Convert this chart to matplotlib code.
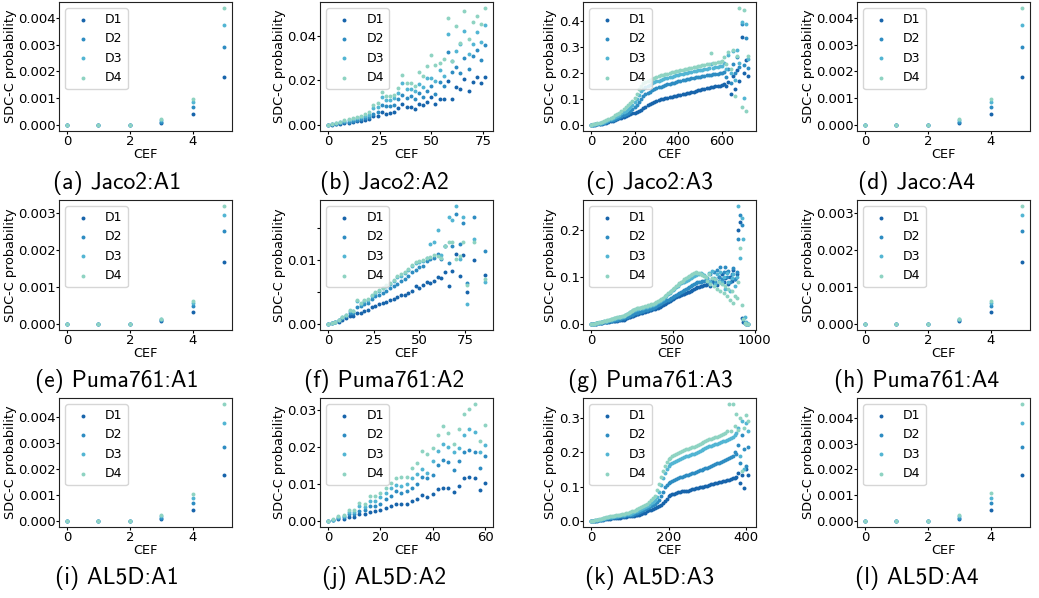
import numpy as np
import matplotlib
matplotlib.use('Agg')
import matplotlib.pyplot as plt

# %% DATA
series_names = ['D1', 'D2', 'D3', 'D4']
series_colors = ['#1764ab', '#2d8cc2', '#52b5d3', '#8ed3c2']

# A1 / A4 campaigns: CEF 0..5
cef_a1 = [0, 1, 2, 3, 4, 5]
jaco2_a1 = [[0, 0, 0, 0.00007, 0.00041, 0.00178],
            [0, 0, 0, 0.00012, 0.00067, 0.00293],
            [0, 0, 0, 0.00018, 0.00085, 0.00375],
            [0, 0, 0, 0.00023, 0.00099, 0.00437]]
jaco_a4 = [[0, 0, 0, 0.00007, 0.00041, 0.00178],
           [0, 0, 0, 0.00012, 0.00067, 0.00293],
           [0, 0, 0, 0.00018, 0.00085, 0.00375],
           [0, 0, 0, 0.00023, 0.00099, 0.00437]]
puma_a1 = [[0, 0, 0, 0.00007, 0.00033, 0.00167],
           [0, 0, 0, 0.00010, 0.00050, 0.00250],
           [0, 0, 0, 0.00013, 0.00056, 0.00294],
           [0, 0, 0, 0.00015, 0.00062, 0.00318]]
puma_a4 = [[0, 0, 0, 0.00007, 0.00033, 0.00166],
           [0, 0, 0, 0.00010, 0.00050, 0.00250],
           [0, 0, 0, 0.00013, 0.00056, 0.00293],
           [0, 0, 0, 0.00015, 0.00061, 0.00318]]
al5d_a1 = [[0, 0, 0, 0.00007, 0.00041, 0.00177],
           [0, 0, 0, 0.00013, 0.00068, 0.00287],
           [0, 0, 0, 0.00019, 0.00089, 0.00379],
           [0, 0, 0, 0.00023, 0.00106, 0.00452]]
al5d_a4 = [[0, 0, 0, 0.00008, 0.00042, 0.00178],
           [0, 0, 0, 0.00013, 0.00069, 0.00288],
           [0, 0, 0, 0.00019, 0.00091, 0.00381],
           [0, 0, 0, 0.00024, 0.00108, 0.00454]]

# A2 campaigns
cef_jaco2_a2 = list(range(0, 78, 2))
jaco2_a2 = [
    [0, .0002, .0005, .0007, .0009, .0011, .0014, .0017, .0019, .0023, .0027, .0040, .0042,
     .0060, .0052, .0053, .0057, .0075, .0093, .0080, .0080, .0072, .0095, .0088, .0103, .0127,
     .0093, .0115, .0118, .0198, .0118, .0172, .0160, .0208, .0152, .0195, .0215, .0190, .0214],
    [0, .0003, .0007, .0010, .0013, .0016, .0020, .0024, .0027, .0031, .0036, .0052, .0058,
     .0090, .0085, .0086, .0092, .0115, .0137, .0122, .0130, .0115, .0145, .0126, .0154, .0176,
     .0140, .0194, .0173, .0328, .0238, .0260, .0235, .0300, .0250, .0310, .0335, .0290, .0358],
    [0, .0004, .0009, .0013, .0017, .0021, .0026, .0031, .0035, .0040, .0046, .0075, .0082,
     .0127, .0112, .0112, .0121, .0145, .0190, .0162, .0163, .0154, .0183, .0172, .0212, .0213,
     .0197, .0245, .0222, .0410, .0285, .0330, .0365, .0420, .0320, .0365, .0415, .0370, .0450],
    [0, .0005, .0011, .0016, .0021, .0026, .0032, .0038, .0043, .0049, .0058, .0090, .0097,
     .0150, .0130, .0130, .0137, .0166, .0224, .0190, .0190, .0175, .0237, .0222, .0264, .0316,
     .0268, .0278, .0297, .0478, .0288, .0445, .0368, .0510, .0385, .0460, .0490, .0455, .0525]]

cef_puma_a2 = list(range(0, 78, 2)) + [80, 86]
puma_a2 = [
    [0, .0001, .0003, .0004, .0007, .0009, .0012, .0012, .0018, .0017, .0021, .0022, .0026,
     .0029, .0031, .0033, .0035, .0037, .0040, .0043, .0045, .0046, .0049, .0052, .0060, .0057,
     .0061, .0066, .0064, .0068, .0073, .0072, .0082, .0060, .0083, .0109, .0076, .0108, .0051,
     .0100, .0077],
    [0, .0001, .0004, .0006, .0010, .0013, .0018, .0018, .0027, .0028, .0031, .0033, .0039,
     .0044, .0046, .0049, .0052, .0056, .0060, .0063, .0068, .0070, .0075, .0082, .0085, .0090,
     .0091, .0098, .0102, .0104, .0109, .0102, .0122, .0096, .0123, .0173, .0125, .0158, .0064,
     .0167, .0115],
    [0, .0001, .0004, .0006, .0011, .0015, .0021, .0020, .0036, .0031, .0036, .0038, .0044,
     .0048, .0052, .0056, .0059, .0063, .0067, .0074, .0076, .0080, .0085, .0091, .0096, .0097,
     .0099, .0103, .0126, .0128, .0147, .0108, .0123, .0167, .0163, .0185, .0102, .0167, .0031,
     .0133, .0066],
    [0, .0001, .0004, .0006, .0011, .0015, .0022, .0021, .0037, .0033, .0038, .0039, .0046,
     .0050, .0054, .0057, .0061, .0065, .0069, .0075, .0078, .0082, .0087, .0093, .0097, .0098,
     .0100, .0104, .0105, .0108, .0107, .0103, .0122, .0128, .0128, .0102, .0107, .0128, .0061,
     .0128, .0070]]

cef_al5d_a2 = list(range(0, 62, 2))
al5d_a2 = [
    [0, .0002, .0006, .0007, .0012, .0012, .0019, .0019, .0024, .0027, .0029, .0035, .0042,
     .0045, .0045, .0046, .0053, .0060, .0070, .0066, .0072, .0086, .0090, .0089, .0079, .0094,
     .0115, .0120, .0116, .0085, .0104],
    [0, .0003, .0009, .0011, .0019, .0019, .0028, .0031, .0040, .0042, .0046, .0060, .0069,
     .0080, .0077, .0082, .0089, .0100, .0120, .0115, .0124, .0152, .0165, .0159, .0137, .0162,
     .0187, .0193, .0187, .0144, .0176],
    [0, .0004, .0012, .0014, .0024, .0024, .0040, .0039, .0053, .0055, .0064, .0075, .0088,
     .0098, .0096, .0100, .0115, .0128, .0140, .0130, .0162, .0190, .0207, .0201, .0186, .0198,
     .0233, .0248, .0240, .0186, .0204],
    [0, .0005, .0014, .0017, .0031, .0031, .0050, .0046, .0069, .0069, .0077, .0089, .0102,
     .0117, .0118, .0120, .0143, .0156, .0189, .0182, .0198, .0233, .0257, .0238, .0208, .0247,
     .0290, .0303, .0316, .0217, .0260]]

# A3 campaigns (read every 10 / 5 CEF)
cef_jaco2_a3 = list(range(0, 730, 10))
jaco2_a3 = [
    [0, .001, .002, .003, .004, .005, .007, .009, .011, .014,
     .017, .020, .023, .026, .029, .032, .035, .038, .041, .045,
     .048, .051, .055, .059, .064, .070, .076, .081, .086, .090,
     .093, .096, .099, .101, .103, .105, .107, .109, .111, .113,
     .115, .117, .119, .121, .123, .125, .127, .129, .131, .133,
     .135, .137, .139, .141, .143, .145, .147, .149, .151, .152,
     .153, .158, .150, .165, .120, .190, .140, .210, .170, .340,
     .200, .250, .190],
    [0, .001, .003, .004, .006, .008, .010, .012, .015, .018,
     .021, .024, .028, .031, .035, .039, .043, .048, .053, .061,
     .070, .078, .088, .100, .110, .118, .124, .129, .134, .138,
     .142, .145, .148, .151, .154, .156, .159, .161, .163, .166,
     .168, .170, .172, .174, .176, .178, .180, .182, .183, .185,
     .186, .188, .189, .191, .192, .193, .195, .196, .198, .199,
     .200, .205, .185, .215, .160, .235, .200, .260, .225, .390,
     .230, .335, .220],
    [0, .002, .004, .006, .008, .010, .013, .016, .019, .023,
     .027, .031, .035, .040, .045, .050, .056, .062, .069, .078,
     .088, .100, .115, .130, .140, .145, .150, .155, .160, .164,
     .168, .171, .174, .177, .179, .182, .184, .186, .188, .191,
     .193, .195, .197, .199, .201, .203, .205, .207, .208, .210,
     .212, .213, .215, .216, .218, .235, .220, .222, .224, .226,
     .228, .240, .215, .270, .200, .285, .175, .290, .240, .395,
     .105, .390, .255],
    [0, .003, .005, .007, .010, .012, .015, .019, .023, .027,
     .032, .037, .042, .048, .054, .061, .068, .076, .085, .094,
     .105, .120, .138, .152, .160, .165, .170, .174, .178, .182,
     .185, .188, .191, .194, .196, .198, .200, .202, .204, .206,
     .208, .210, .212, .214, .216, .218, .220, .222, .224, .226,
     .228, .230, .232, .234, .236, .275, .238, .240, .242, .244,
     .245, .260, .235, .280, .215, .290, .110, .265, .450, .070,
     .440, .055, .265]]

cef_puma_a3 = list(range(0, 970, 10))
puma_a3 = [
    [0, 0, .0005, .001, .0015, .002, .0025, .003, .0035, .004,
     .0045, .005, .0055, .006, .0065, .007, .0075, .008, .0085, .009,
     .0095, .011, .012, .014, .015, .017, .018, .020, .021, .022,
     .023, .024, .025, .026, .027, .028, .029, .030, .031, .032,
     .033, .035, .037, .039, .041, .043, .045, .047, .049, .051,
     .053, .055, .057, .059, .060, .062, .063, .064, .066, .067,
     .068, .070, .072, .074, .076, .078, .079, .080, .081, .082,
     .083, .085, .088, .080, .092, .086, .095, .082, .100, .090,
     .105, .088, .098, .110, .085, .100, .092, .115, .095, .105,
     .200, .215, .012, .005, .002, .001, .001],
    [0, 0, .0006, .0012, .0018, .0024, .003, .0036, .0042, .0048,
     .0054, .006, .0067, .0074, .0081, .0088, .0095, .010, .011, .012,
     .013, .014, .016, .017, .019, .020, .022, .023, .024, .025,
     .026, .027, .028, .029, .030, .031, .032, .033, .034, .036,
     .038, .040, .042, .044, .046, .048, .050, .052, .054, .056,
     .058, .060, .062, .064, .066, .068, .070, .072, .074, .076,
     .078, .080, .082, .084, .086, .088, .089, .090, .091, .092,
     .093, .098, .088, .105, .095, .110, .090, .115, .100, .120,
     .095, .110, .120, .100, .112, .090, .105, .118, .095, .110,
     .180, .230, .210, .010, .003, .001, .001],
    [0, 0, .0008, .0016, .0024, .0032, .004, .0048, .0056, .0064,
     .0072, .008, .009, .010, .011, .012, .013, .014, .015, .016,
     .017, .019, .021, .023, .025, .027, .029, .030, .031, .032,
     .033, .034, .035, .036, .037, .038, .039, .040, .041, .043,
     .045, .047, .049, .051, .054, .057, .060, .063, .066, .069,
     .072, .075, .078, .081, .084, .086, .088, .090, .092, .094,
     .096, .098, .100, .102, .104, .106, .107, .108, .106, .104,
     .100, .095, .108, .090, .112, .098, .085, .105, .092, .110,
     .088, .100, .075, .108, .090, .070, .098, .105, .080, .100,
     .250, .140, .225, .180, .014, .004, .001],
    [0, 0, .0009, .0018, .0027, .0036, .0045, .0054, .0063, .0072,
     .008, .009, .010, .011, .012, .013, .014, .015, .016, .017,
     .018, .020, .022, .024, .026, .028, .030, .032, .033, .034,
     .035, .036, .037, .038, .039, .040, .041, .042, .043, .045,
     .047, .049, .051, .053, .056, .059, .062, .065, .068, .071,
     .074, .077, .080, .083, .086, .089, .092, .095, .098, .100,
     .102, .104, .106, .108, .110, .109, .108, .106, .104, .102,
     .100, .092, .105, .085, .098, .080, .095, .075, .090, .070,
     .085, .065, .080, .060, .075, .050, .070, .045, .060, .055,
     .090, .160, .040, .010, .003, .001, 0]]

cef_al5d_a3 = list(range(0, 410, 5))
al5d_a3 = [
    [0, .0005, .001, .0015, .002, .003, .004, .005, .006, .007,
     .0075, .008, .0085, .009, .0095, .010, .011, .012, .013, .0135,
     .014, .015, .016, .017, .018, .019, .021, .023, .025, .028,
     .031, .033, .035, .037, .040, .043, .048, .053, .058, .065,
     .072, .075, .078, .080, .082, .084, .085, .086, .087, .088,
     .088, .090, .092, .094, .096, .097, .098, .099, .100, .101,
     .103, .105, .107, .109, .111, .112, .113, .114, .115, .117,
     .119, .120, .122, .124, .125, .128, .140, .110, .135, .095,
     .150, .135],
    [0, .0007, .0014, .002, .003, .004, .005, .0065, .008, .009,
     .010, .011, .012, .013, .014, .015, .0155, .016, .017, .0175,
     .018, .019, .021, .023, .025, .027, .029, .031, .034, .037,
     .040, .043, .046, .050, .055, .062, .072, .085, .098, .105,
     .110, .114, .117, .120, .123, .125, .127, .129, .131, .133,
     .135, .137, .139, .141, .143, .145, .147, .149, .151, .153,
     .155, .157, .160, .163, .165, .168, .170, .172, .175, .178,
     .180, .183, .186, .190, .200, .195, .220, .170, .250, .210,
     .160, .215],
    [0, .001, .002, .003, .004, .005, .0065, .008, .0095, .011,
     .012, .013, .014, .015, .016, .017, .018, .019, .020, .021,
     .022, .024, .026, .028, .030, .033, .036, .039, .042, .045,
     .048, .052, .056, .062, .070, .085, .105, .125, .140, .152,
     .160, .165, .169, .172, .175, .178, .181, .184, .186, .188,
     .190, .192, .194, .196, .198, .200, .203, .206, .209, .212,
     .215, .217, .219, .221, .223, .225, .227, .229, .231, .233,
     .235, .238, .242, .245, .250, .255, .270, .190, .290, .150,
     .285, .260],
    [0, .0012, .0024, .0036, .005, .0065, .008, .0095, .011, .0125,
     .014, .015, .016, .017, .018, .019, .020, .022, .023, .024,
     .026, .028, .030, .033, .036, .039, .042, .045, .048, .051,
     .055, .060, .066, .074, .090, .108, .128, .145, .160, .171,
     .180, .184, .188, .192, .195, .198, .201, .204, .206, .208,
     .210, .212, .214, .216, .218, .221, .224, .227, .230, .232,
     .235, .237, .239, .241, .243, .245, .248, .250, .253, .256,
     .260, .340, .262, .340, .275, .310, .265, .300, .145, .270,
     .307, .290]]

# %% PANELS: caption, x, data, xticks, yticks, ytick labels
ticks_a1 = [0, 2, 4]
panels = [
    ('(a) Jaco2:A1', cef_a1, jaco2_a1, ticks_a1, [0, .001, .002, .003, .004], None),
    ('(b) Jaco2:A2', cef_jaco2_a2, jaco2_a2, [0, 25, 50, 75], [0, .02, .04], None),
    ('(c) Jaco2:A3', cef_jaco2_a3, jaco2_a3, [0, 200, 400, 600], [0, .1, .2, .3, .4], None),
    ('(d) Jaco:A4', cef_a1, jaco_a4, ticks_a1, [0, .001, .002, .003, .004], None),
    ('(e) Puma761:A1', cef_a1, puma_a1, ticks_a1, [0, .001, .002, .003], None),
    ('(f) Puma761:A2', cef_puma_a2, puma_a2, [0, 25, 50, 75], [0, .005, .01, .015],
     ['0.00', '', '0.01', '']),
    ('(g) Puma761:A3', cef_puma_a3, puma_a3, [0, 500, 1000], [0, .1, .2], None),
    ('(h) Puma761:A4', cef_a1, puma_a4, ticks_a1, [0, .001, .002, .003], None),
    ('(i) AL5D:A1', cef_a1, al5d_a1, ticks_a1, [0, .001, .002, .003, .004], None),
    ('(j) AL5D:A2', cef_al5d_a2, al5d_a2, [0, 20, 40, 60], [0, .01, .02, .03], None),
    ('(k) AL5D:A3', cef_al5d_a3, al5d_a3, [0, 200, 400], [0, .1, .2, .3], None),
    ('(l) AL5D:A4', cef_a1, al5d_a4, ticks_a1, [0, .001, .002, .003, .004], None),
]

# %% PLOT
W, H = 1039, 598
col_left = [59, 320, 583, 857]
row_span = [(2, 131), (200, 330), (398, 527)]
cap_x = [117, 384, 650, 917]
cap_y = [183, 381, 578]
ax_w = 173

plt.rcParams['xtick.labelsize'] = 9.5
plt.rcParams['ytick.labelsize'] = 9.5
plt.rcParams['xtick.major.size'] = 2
plt.rcParams['ytick.major.size'] = 2
plt.rcParams['xtick.major.pad'] = 0.6
plt.rcParams['ytick.major.pad'] = 0.4
plt.rcParams['axes.edgecolor'] = '#222222'

fig = plt.figure(figsize=(W / 100, H / 100), dpi=100)

for k, (caption, cef, data, xt, yt, ytl) in enumerate(panels):
    r, c = divmod(k, 4)
    top, bot = row_span[r]
    ax = fig.add_axes([col_left[c] / W, 1 - bot / H, ax_w / W, (bot - top) / H])
    for name, col, vals in zip(series_names, series_colors, data):
        ax.scatter(cef, vals, s=8, color=col, linewidths=0, label=name)
    ax.set_xticks(xt)
    if ytl is None:
        ax.set_yticks(yt)
    else:
        ax.set_yticks(yt, ytl)
    ax.set_xlabel('CEF', fontsize=9.3, labelpad=0)
    ax.set_ylabel('SDC-C probability', fontsize=9.3, labelpad=1)
    ax.legend(loc='upper left', fontsize=9, scatterpoints=1)
    fig.text(cap_x[c] / W, 1 - cap_y[r] / H, caption, family='cmss10',
             fontsize=17, ha='center', va='center')

fig.savefig('out.png', dpi=100)
